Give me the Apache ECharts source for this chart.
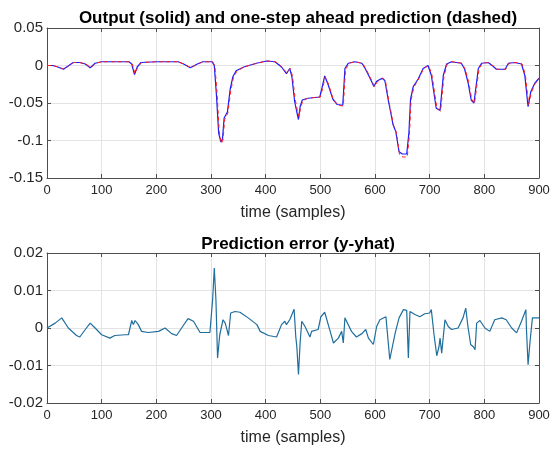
<!DOCTYPE html>
<html>
<head>
<meta charset="utf-8">
<script src="https://cdn.jsdelivr.net/npm/echarts@6/dist/echarts.min.js"></script>
<style>
  html, body { margin: 0; padding: 0; background: #fff; }
  #chart { width: 553px; height: 455px; }
</style>
</head>
<body>
<div id="chart"></div>
<script>
// 输出 y（实线）: [样本, 值]
const outputY = [
  [0, 0], [10, 0], [20, -0.002], [30, -0.005], [38, -0.001], [48, 0.004], [60, 0.004], [70, 0.002],
  [79, -0.003], [88, 0.003], [100, 0.005], [150, 0.005], [155, 0.002], [160, -0.012], [165, -0.002],
  [172, 0.004], [200, 0.005], [240, 0.005], [250, 0.002], [262, -0.003], [275, 0.002], [285, 0.005],
  [302, 0.005], [306, 0], [310, -0.04], [314, -0.09], [318, -0.102], [321, -0.098], [324, -0.07],
  [330, -0.062], [335, -0.032], [340, -0.015], [346, -0.007], [360, -0.002], [383, 0.003], [402, 0.006],
  [417, 0.005], [429, -0.002], [438, -0.011], [444, -0.004], [448, -0.015], [453, -0.048], [457, -0.062],
  [460, -0.072], [463, -0.055], [467, -0.046], [475, -0.044], [485, -0.043], [499, -0.042], [503, -0.03],
  [508, -0.014], [514, -0.025], [523, -0.045], [531, -0.052], [541, -0.053], [545, -0.004], [551, 0.003],
  [563, 0.005], [576, 0.003], [582, -0.004], [591, -0.017], [598, -0.028], [603, -0.021], [613, -0.017],
  [618, -0.02], [624, -0.045], [633, -0.079], [638, -0.088], [644, -0.115], [650, -0.118], [658, -0.118],
  [662, -0.09], [665, -0.045], [670, -0.028], [679, -0.018], [688, -0.004], [697, 0], [703, -0.013],
  [712, -0.057], [719, -0.06], [725, -0.013], [731, 0.002], [740, 0.005], [758, 0.003], [764, -0.005],
  [770, -0.022], [776, -0.046], [781, -0.05], [789, -0.004], [795, 0.003], [807, 0.004], [816, -0.001],
  [822, -0.005], [838, -0.005], [844, 0.003], [856, 0.004], [868, 0.002], [874, -0.013], [880, -0.055],
  [885, -0.035], [892, -0.024], [900, -0.017]
];

// 一步预测 yhat（虚线）
const predY = [
  [0, 0], [10, 0], [21, -0.002], [31, -0.005], [39, -0.001], [49, 0.004], [60, 0.004], [71, 0.002],
  [80, -0.003], [89, 0.003], [100, 0.005], [150, 0.005], [156, 0.002], [161, -0.011], [166, -0.002],
  [173, 0.004], [200, 0.005], [240, 0.005], [251, 0.002], [263, -0.003], [276, 0.002], [286, 0.005],
  [303, 0.005], [307, 0], [311, -0.036], [315, -0.088], [319, -0.104], [322, -0.099], [325, -0.072],
  [331, -0.063], [336, -0.034], [341, -0.016], [347, -0.008], [360, -0.002], [384, 0.003], [402, 0.006],
  [418, 0.005], [430, -0.002], [439, -0.01], [445, -0.004], [449, -0.014], [454, -0.045], [458, -0.06],
  [461, -0.068], [464, -0.056], [468, -0.047], [476, -0.044], [486, -0.043], [500, -0.042], [504, -0.031],
  [509, -0.015], [515, -0.025], [524, -0.046], [532, -0.053], [542, -0.054], [546, -0.006], [552, 0.003],
  [564, 0.005], [577, 0.003], [583, -0.004], [592, -0.017], [599, -0.028], [604, -0.022], [614, -0.017],
  [619, -0.02], [625, -0.046], [634, -0.08], [639, -0.089], [645, -0.119], [651, -0.122], [659, -0.122],
  [663, -0.093], [666, -0.046], [671, -0.029], [680, -0.018], [689, -0.004], [698, 0], [704, -0.012],
  [713, -0.056], [720, -0.061], [726, -0.015], [732, 0.002], [741, 0.005], [759, 0.003], [765, -0.005],
  [771, -0.021], [777, -0.045], [782, -0.051], [790, -0.006], [796, 0.003], [808, 0.004], [817, -0.001],
  [823, -0.005], [839, -0.005], [845, 0.003], [857, 0.004], [869, 0.002], [875, -0.012], [881, -0.052],
  [886, -0.036], [893, -0.024], [900, -0.017]
];

// 预测误差 y - yhat
const predError = [
  [0, 0], [15, 0.0013], [27, 0.0027], [30, 0.003], [39, 0], [54, -0.002], [60, -0.0024], [70, -0.0004],
  [79, 0.0013], [88, 0], [100, -0.0018], [115, -0.0027], [124, -0.002], [143, -0.0018], [149, -0.0018],
  [155, 0.002], [158, 0.0009], [161, 0.002], [167, 0.0009], [173, -0.0009], [185, -0.0012], [204, -0.0009],
  [216, 0], [219, -0.0001], [228, -0.0015], [237, -0.002], [249, 0.0006], [258, 0.0025], [268, 0.0018],
  [280, -0.0012], [298, -0.0012], [303, 0.0076], [306, 0.016], [309, 0.0076], [312, -0.008], [316, -0.0018],
  [322, 0.0022], [326, 0.0013], [329, 0.0018], [332, -0.002], [336, 0.004], [344, 0.0044], [353, 0.0042],
  [368, 0.0027], [384, 0.0009], [390, -0.0009], [405, -0.002], [420, -0.0024], [429, 0.0009], [435, 0.0018],
  [438, 0.0009], [444, 0.0022], [452, 0.005], [455, -0.0022], [457, -0.005], [460, -0.0124], [463, -0.004],
  [466, 0.0018], [472, 0.0004], [481, -0.0024], [484, -0.0009], [496, -0.0004], [501, 0.003], [508, 0.0042],
  [518, -0.0009], [524, -0.004], [533, -0.0027], [539, -0.0009], [542, -0.004], [545, 0.0027], [548, 0.0018],
  [557, -0.0009], [566, -0.0024], [576, -0.0015], [583, -0.0004], [588, -0.0027], [597, -0.0044],
  [603, 0.0004], [609, 0.0022], [620, 0.003], [627, -0.0084], [637, -0.0013], [644, 0.0027], [652, 0.0049],
  [658, 0.0047], [661, -0.008], [664, 0.0044], [673, 0.0036], [682, 0.003], [691, 0.0038], [700, 0.004],
  [703, 0.0049], [708, -0.0018], [713, -0.0074], [717, -0.005], [719, -0.0027], [722, -0.0067],
  [728, 0.0022], [734, 0.0004], [740, -0.0004], [752, 0], [761, 0.0027], [766, 0.0053], [770, 0.0004],
  [775, -0.0044], [780, -0.005], [783, -0.0058], [786, 0.0013], [792, 0.002], [801, 0], [810, -0.0009],
  [819, 0.0022], [832, 0.0027], [840, 0.0022], [850, 0], [859, -0.0013], [868, 0.0018], [876, 0.0049],
  [877, -0.0002], [880, -0.0098], [884, -0.003], [888, 0.0027], [900, 0.0027]
];

const xTicks = [0, 900, 100];          // min, max, interval
const yTicksTop = [-0.15, 0.05, 0.05];
const yTicksBottom = [-0.02, 0.02, 0.01];

const FONT = 'Liberation Sans';
const axisColor = '#4d4d4d';
const labelColor = '#262626';
const gridLineColor = '#e3e3e3';

function xAxisPair(gridIndex) {
  const base = {
    type: 'value',
    gridIndex,
    min: xTicks[0],
    max: xTicks[1],
    interval: xTicks[2],
    axisLine: { show: true, onZero: false, lineStyle: { color: axisColor, width: 1 } },
    axisTick: { show: true, inside: true, length: 4, lineStyle: { color: axisColor } }
  };
  return [
    Object.assign({}, base, {
      position: 'bottom',
      axisLabel: { color: labelColor, fontFamily: FONT, fontSize: 13, margin: 6 },
      splitLine: { show: true, lineStyle: { color: gridLineColor } },
      name: 'time (samples)',
      nameLocation: 'middle',
      nameGap: 27,
      nameTextStyle: { color: labelColor, fontFamily: FONT, fontSize: 16 }
    }),
    Object.assign({}, base, {
      position: 'top',
      axisLabel: { show: false },
      splitLine: { show: false }
    })
  ];
}

function yAxisPair(gridIndex, ticks) {
  const base = {
    type: 'value',
    gridIndex,
    min: ticks[0],
    max: ticks[1],
    interval: ticks[2],
    axisLine: { show: true, onZero: false, lineStyle: { color: axisColor, width: 1 } },
    axisTick: { show: true, inside: true, length: 4, lineStyle: { color: axisColor } }
  };
  return [
    Object.assign({}, base, {
      position: 'left',
      axisLabel: { color: labelColor, fontFamily: FONT, fontSize: 15, margin: 4 },
      splitLine: { show: true, lineStyle: { color: gridLineColor } }
    }),
    Object.assign({}, base, {
      position: 'right',
      axisLabel: { show: false },
      splitLine: { show: false }
    })
  ];
}

const chart = echarts.init(document.getElementById('chart'));

chart.setOption({
  backgroundColor: '#ffffff',
  animation: false,
  title: [
    {
      text: 'Output (solid) and one-step ahead prediction (dashed)',
      left: 293, top: 5, textAlign: 'center',
      textStyle: { fontFamily: FONT, fontSize: 17, fontWeight: 'bold', color: '#000' }
    },
    {
      text: 'Prediction error (y-yhat)',
      left: 293, top: 231, textAlign: 'center',
      textStyle: { fontFamily: FONT, fontSize: 17, fontWeight: 'bold', color: '#000' }
    }
  ],
  grid: [
    { left: 47, right: 14, top: 28, height: 150 },
    { left: 47, right: 14, top: 253, height: 150 }
  ],
  xAxis: [...xAxisPair(0), ...xAxisPair(1)],
  yAxis: [...yAxisPair(0, yTicksTop), ...yAxisPair(1, yTicksBottom)],
  series: [
    {
      type: 'line', xAxisIndex: 0, yAxisIndex: 0, data: outputY,
      showSymbol: false, lineStyle: { color: '#1a1aff', width: 1.2 }
    },
    {
      type: 'line', xAxisIndex: 0, yAxisIndex: 0, data: predY,
      showSymbol: false, lineStyle: { color: '#ff2020', width: 1, type: [4, 3] }
    },
    {
      type: 'line', xAxisIndex: 2, yAxisIndex: 2, data: predError,
      showSymbol: false, lineStyle: { color: '#1f6e9c', width: 1.2 }
    }
  ]
});

window.addEventListener('resize', () => chart.resize());
</script>
</body>
</html>
